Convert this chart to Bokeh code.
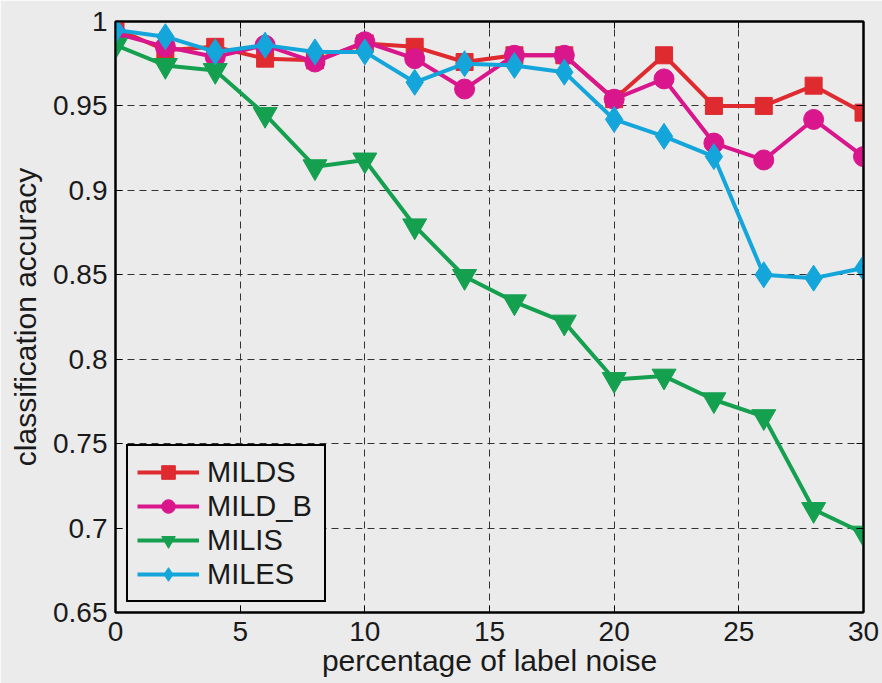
from bokeh.plotting import figure
from bokeh.models import Range1d, Legend, LegendItem, LinearAxis, FixedTicker
from bokeh.embed import file_html
from bokeh.resources import INLINE

noise = [0, 2, 4, 6, 8, 10, 12, 14, 16, 18, 20, 22, 24, 26, 28, 30]
milds = [0.996, 0.983, 0.985, 0.978, 0.977, 0.987, 0.985, 0.976, 0.980, 0.980,
         0.954, 0.980, 0.950, 0.950, 0.962, 0.946]
mild_b = [0.993, 0.985, 0.979, 0.986, 0.976, 0.988, 0.978, 0.960, 0.980, 0.980,
          0.954, 0.966, 0.928, 0.918, 0.942, 0.920]
milis = [0.986, 0.974, 0.971, 0.945, 0.914, 0.918, 0.879, 0.849, 0.834, 0.822,
         0.788, 0.790, 0.776, 0.766, 0.711, 0.697]
miles = [0.995, 0.991, 0.982, 0.986, 0.982, 0.982, 0.964, 0.975, 0.974, 0.970,
         0.942, 0.932, 0.920, 0.850, 0.848, 0.854]

x_ticks = [0, 5, 10, 15, 20, 25, 30]
y_ticks = [0.65, 0.7, 0.75, 0.8, 0.85, 0.9, 0.95, 1.0]
y_tick_labels = ["0.65", "0.7", "0.75", "0.8", "0.85", "0.9", "0.95", "1"]

BG = "#EBEBEB"
FONT = "Liberation Sans"
TXT = "#1a1a1a"

p = figure(width=882, height=683, output_backend="svg", toolbar_location=None,
           x_range=Range1d(0, 30), y_range=Range1d(0.65, 1.0),
           min_border_left=115, min_border_right=19, min_border_top=21,
           min_border_bottom=71,
           background_fill_color=BG, border_fill_color=BG)

p.outline_line_color = "black"
p.outline_line_width = 2

for ax in (p.xaxis[0], p.yaxis[0]):
    ax.axis_line_width = 2
    ax.axis_line_color = "black"
    ax.major_tick_in = 7
    ax.major_tick_out = 0
    ax.minor_tick_in = 0
    ax.minor_tick_out = 0
    ax.major_label_text_font = FONT
    ax.major_label_text_font_size = "28px"
    ax.major_label_text_color = TXT
    ax.axis_label_text_font = FONT
    ax.axis_label_text_font_size = "30px"
    ax.axis_label_text_font_style = "normal"
    ax.axis_label_text_color = TXT

p.xaxis.ticker = FixedTicker(ticks=x_ticks)
p.yaxis.ticker = FixedTicker(ticks=y_ticks)
p.yaxis.major_label_overrides = {t: s for t, s in zip(y_ticks, y_tick_labels)}
p.xaxis.axis_label = "percentage of label noise"
p.yaxis.axis_label = "classification accuracy"
p.xaxis.major_label_standoff = 9
p.yaxis.major_label_standoff = 8
p.xaxis.axis_label_standoff = 0
p.yaxis.axis_label_standoff = 8

for loc, ticks in (("right", y_ticks), ("above", x_ticks)):
    a = LinearAxis(ticker=FixedTicker(ticks=ticks), major_label_text_font_size="0px",
                   major_label_text_color=None,
                   major_tick_in=7, major_tick_out=0, minor_tick_in=0, minor_tick_out=0,
                   axis_line_width=2, major_label_standoff=0)
    p.add_layout(a, loc)

for g, ticks in ((p.xgrid[0], x_ticks), (p.ygrid[0], y_ticks)):
    g.ticker = FixedTicker(ticks=ticks)
    g.grid_line_color = "#333333"
    g.grid_line_dash = "7 5"
    g.grid_line_width = 1

series = [
    ("MILDS", milds, "#DF2A30", "square", 17),
    ("MILD_B", mild_b, "#D9168C", "circle", 20),
    ("MILIS", milis, "#15A050", "inverted_triangle", 24),
    ("MILES", miles, "#14A6DB", "diamond", 26),
]

items = []
for name, vals, col, mk, sz in series:
    r1 = p.line(noise, vals, line_color=col, line_width=4)
    r2 = p.scatter(noise, vals, marker=mk, size=sz, fill_color=col, line_color=col)
    items.append(LegendItem(label=name, renderers=[r1, r2]))

legend = Legend(items=items, location=(11, 10),
                background_fill_color=BG, background_fill_alpha=1.0,
                border_line_color="black", border_line_width=2, border_line_alpha=1.0,
                label_text_font=FONT, label_text_font_size="29px",
                label_text_color=TXT,
                glyph_width=62, glyph_height=34, label_height=34, label_width=108,
                label_standoff=8, padding=9, spacing=0, margin=0)
p.add_layout(legend, "center")

open("out.html", "w").write(file_html(p, INLINE))
